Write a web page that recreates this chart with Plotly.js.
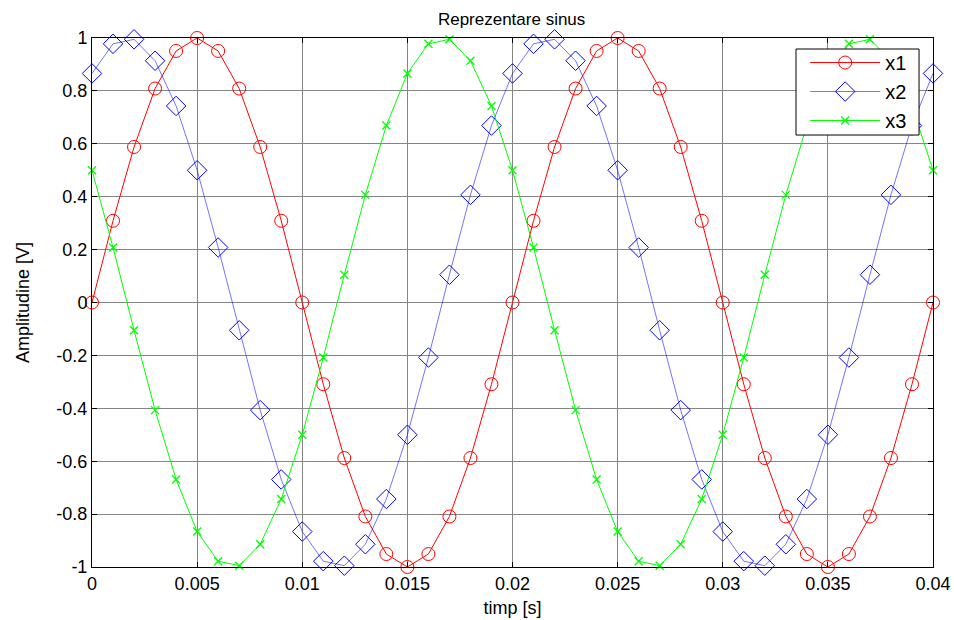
<!DOCTYPE html>
<html>
<head>
<meta charset="utf-8">
<script src="https://cdn.plot.ly/plotly-3.0.1.min.js"></script>
<style>html,body{margin:0;padding:0;background:#fff;}#chart{width:954px;height:620px;}</style>
</head>
<body>
<div id="chart"></div>
<script>
const t = [0,0.001,0.002,0.003,0.004,0.005,0.006,0.007,0.008,0.009,0.010,0.011,0.012,0.013,0.014,0.015,0.016,0.017,0.018,0.019,0.020,
  0.021,0.022,0.023,0.024,0.025,0.026,0.027,0.028,0.029,0.030,0.031,0.032,0.033,0.034,0.035,0.036,0.037,0.038,0.039,0.040];
const x1 = [0,0.309,0.588,0.809,0.951,1,0.951,0.809,0.588,0.309,0,-0.309,-0.588,-0.809,-0.951,-1,-0.951,-0.809,-0.588,-0.309,
  0,0.309,0.588,0.809,0.951,1,0.951,0.809,0.588,0.309,0,-0.309,-0.588,-0.809,-0.951,-1,-0.951,-0.809,-0.588,-0.309,0];
const x2 = [0.866,0.978,0.995,0.914,0.743,0.5,0.208,-0.105,-0.407,-0.669,-0.866,-0.978,-0.995,-0.914,-0.743,-0.5,-0.208,0.105,0.407,0.669,
  0.866,0.978,0.995,0.914,0.743,0.5,0.208,-0.105,-0.407,-0.669,-0.866,-0.978,-0.995,-0.914,-0.743,-0.5,-0.208,0.105,0.407,0.669,0.866];
const x3 = [0.5,0.208,-0.105,-0.407,-0.669,-0.866,-0.978,-0.995,-0.914,-0.743,-0.5,-0.208,0.105,0.407,0.669,0.866,0.978,0.995,0.914,0.743,
  0.5,0.208,-0.105,-0.407,-0.669,-0.866,-0.978,-0.995,-0.914,-0.743,-0.5,-0.208,0.105,0.407,0.669,0.866,0.978,0.995,0.914,0.743,0.5];
const xTickVals = [0,0.005,0.01,0.015,0.02,0.025,0.03,0.035,0.04];
const xTickText = ['0','0.005','0.01','0.015','0.02','0.025','0.03','0.035','0.04'];
const yTickVals = [-1,-0.8,-0.6,-0.4,-0.2,0,0.2,0.4,0.6,0.8,1];
const yTickText = ['-1','-0.8','-0.6','-0.4','-0.2','0','0.2','0.4','0.6','0.8','1'];
const seriesNames = ['x1','x2','x3'];

const font = 'Liberation Sans, Arial, sans-serif';
const traces = [
  {x: t, y: x1, name: seriesNames[0], type: 'scatter', mode: 'lines+markers', cliponaxis: false,
   line: {color: '#ff0000', width: 1},
   marker: {symbol: 'circle-open', size: 13, color: '#ff0000', line: {width: 1, color: '#ff0000'}}},
  {x: t, y: x2, name: seriesNames[1], type: 'scatter', mode: 'lines+markers', cliponaxis: false,
   line: {color: 'rgba(0,0,255,0.55)', width: 1},
   marker: {symbol: 'diamond-open', size: 15, color: '#0000ff', line: {width: 1, color: '#0000ff'}}},
  {x: t, y: x3, name: seriesNames[2], type: 'scatter', mode: 'lines+markers', cliponaxis: false,
   line: {color: '#00ff00', width: 1},
   marker: {symbol: 'x-thin-open', size: 8, color: '#00ff00', line: {width: 1.3, color: '#00e000'}}}
];
const axisCommon = {
  showline: true, linecolor: '#000', linewidth: 1, mirror: 'ticks',
  ticks: 'inside', ticklen: 5, tickcolor: '#000', tickwidth: 1,
  showgrid: true, gridcolor: '#858585', gridwidth: 1,
  zeroline: false, tickfont: {family: font, size: 18, color: '#000'}
};
const layout = {
  width: 954, height: 620,
  paper_bgcolor: '#fff', plot_bgcolor: '#fff',
  margin: {l: 92, r: 21, t: 38, b: 53},
  title: {text: 'Reprezentare sinus', font: {family: font, size: 17, color: '#000'}, x: 0.5363, xanchor: 'center', y: 0.97, yanchor: 'middle'},
  xaxis: Object.assign({}, axisCommon, {
    range: [0, 0.04], tickmode: 'array', tickvals: xTickVals, ticktext: xTickText,
    title: {text: 'timp [s]', font: {family: font, size: 18, color: '#000'}, standoff: 8}
  }),
  yaxis: Object.assign({}, axisCommon, {
    range: [-1, 1], tickmode: 'array', tickvals: yTickVals, ticktext: yTickText,
    title: {text: 'Amplitudine [V]', font: {family: font, size: 18, color: '#000'}, standoff: 22}
  }),
  shapes: [
    {type: 'rect', xref: 'paper', yref: 'paper', x0: 0.8371, x1: 0.9834, y0: 0.8166, y1: 0.9792,
     fillcolor: '#fff', line: {color: '#000', width: 1}, layer: 'above'}
  ],
  showlegend: true,
  legend: {x: 0.848, xanchor: 'left', y: 0.9905, yanchor: 'top', bgcolor: 'rgba(0,0,0,0)', borderwidth: 0,
    font: {family: font, size: 20, color: '#000'}, itemwidth: 70, tracegroupgap: 0}
};
Plotly.newPlot('chart', traces, layout, {displayModeBar: false, staticPlot: true});
</script>
</body>
</html>
